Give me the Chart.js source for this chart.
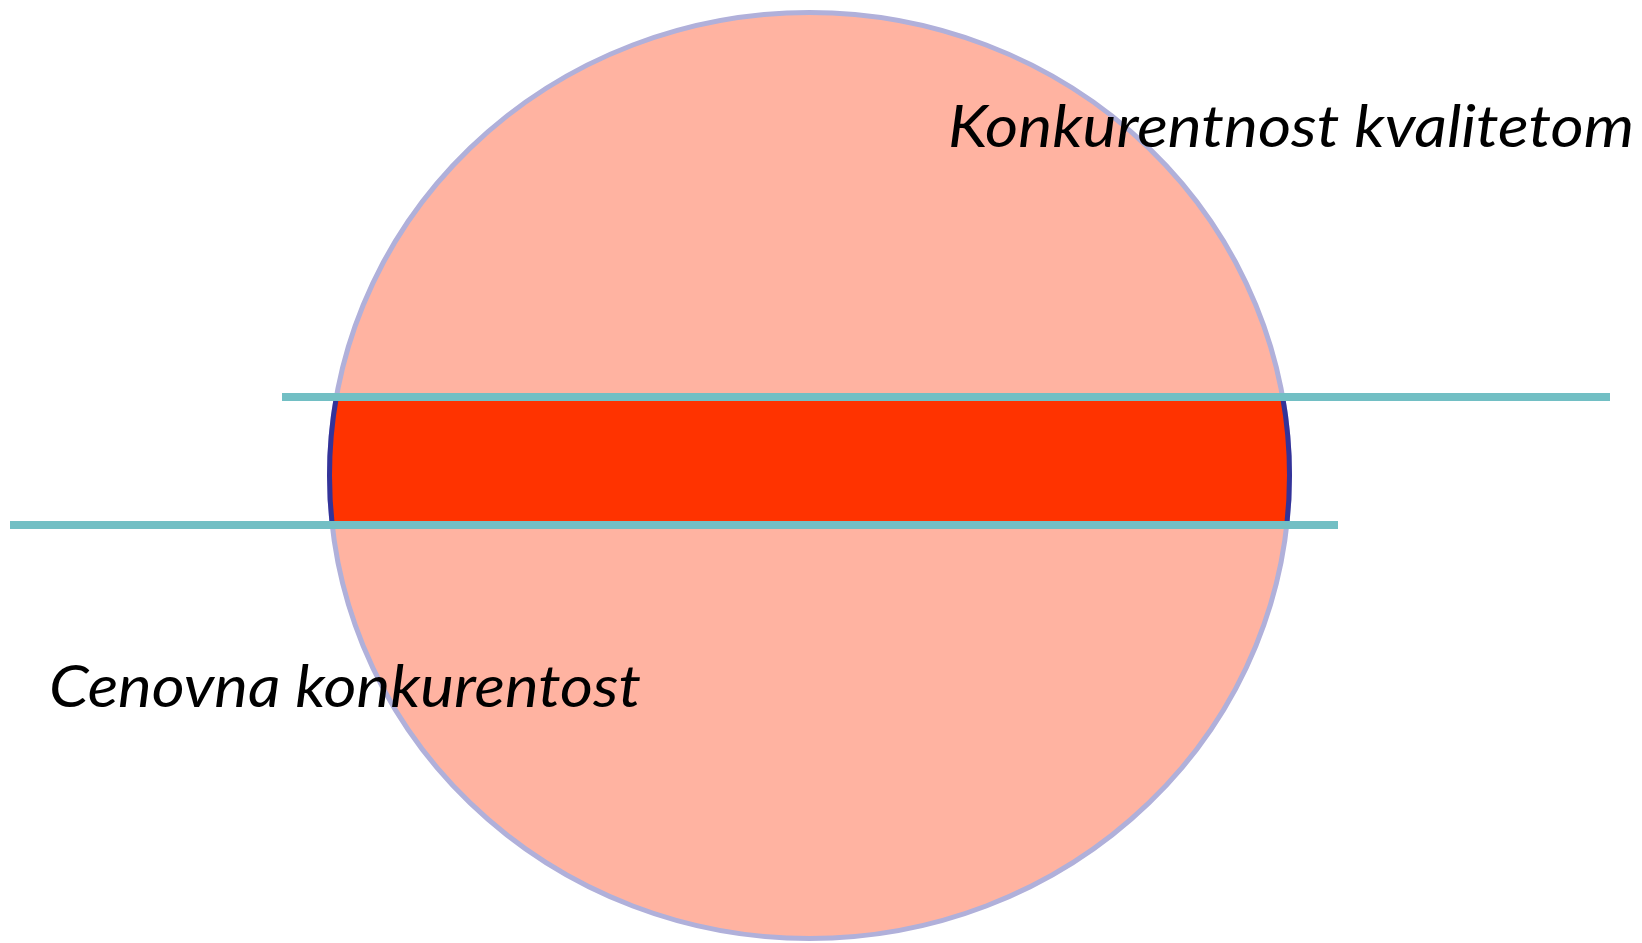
<!DOCTYPE html>
<html>
<head>
<meta charset="utf-8">
<script src="https://cdn.jsdelivr.net/npm/chart.js@4.4.1/dist/chart.umd.min.js"></script>
<style>
  html, body { margin: 0; padding: 0; background: #fff; overflow: hidden; }
  #wrap { width: 1642px; height: 943px; }
</style>
</head>
<body>
<div id="wrap"><canvas id="c" width="1642" height="943"></canvas></div>
<script>
// 경쟁력 다이어그램: 큰 타원(전체) + 두 선 사이의 띠(교집합) + 두 라벨
const ellipseCenter = [809.5, 475.5];   // [x, y] in plot units
const ellipseRadii = [480, 463];        // [rx, ry]
const bandLimits = [397, 525];          // y range of the highlighted band
const qualityLine = [{ x: 282, y: 397 }, { x: 1610, y: 397 }];
const priceLine = [{ x: 10, y: 525 }, { x: 1338, y: 525 }];
const labelTexts = ['Konkurentnost kvalitetom', 'Cenovna konkurentost'];
const labelAnchors = [{ x: 948, y: 147 }, { x: 49, y: 707 }]; // left / baseline
const labelWidths = [686, 592];

const C = {
  fill: '#ffb3a1',
  outline: '#b0b0da',
  band: '#ff3300',
  bandEdge: '#333399',
  line: '#72bfc4',
  text: '#000000',
};

const ellipsePlugin = {
  id: 'ellipse',
  beforeDatasetsDraw(chart) {
    const { ctx, scales: { x, y } } = chart;
    const cx = x.getPixelForValue(ellipseCenter[0]);
    const cy = y.getPixelForValue(ellipseCenter[1]);
    const rx = Math.abs(x.getPixelForValue(ellipseCenter[0] + ellipseRadii[0]) - cx);
    const ry = Math.abs(y.getPixelForValue(ellipseCenter[1] + ellipseRadii[1]) - cy);
    const path = () => { ctx.beginPath(); ctx.ellipse(cx, cy, rx, ry, 0, 0, Math.PI * 2); };

    ctx.save();
    path();
    ctx.fillStyle = C.fill;
    ctx.fill();
    ctx.lineWidth = 5;
    ctx.strokeStyle = C.outline;
    ctx.stroke();

    // 띠 영역만 잘라 진하게
    const y0 = y.getPixelForValue(bandLimits[0]);
    const y1 = y.getPixelForValue(bandLimits[1]);
    ctx.beginPath();
    ctx.rect(0, Math.min(y0, y1), chart.width, Math.abs(y1 - y0));
    ctx.clip();
    path();
    ctx.fillStyle = C.band;
    ctx.fill();
    ctx.strokeStyle = C.bandEdge;
    ctx.stroke();
    ctx.restore();
  },
  afterDatasetsDraw(chart) {
    const { ctx, scales: { x, y } } = chart;
    ctx.save();
    ctx.fillStyle = C.text;
    ctx.font = 'italic 58px Lato, "Open Sans", sans-serif';
    ctx.textBaseline = 'alphabetic';
    labelTexts.forEach((t, i) => {
      const px = x.getPixelForValue(labelAnchors[i].x);
      const py = y.getPixelForValue(labelAnchors[i].y);
      const w = ctx.measureText(t).width;
      ctx.save();
      ctx.translate(px, py);
      ctx.scale(labelWidths[i] / w, 1);
      ctx.fillText(t, 0, 0);
      ctx.restore();
    });
    ctx.restore();
  },
};

const lineDs = (data) => ({
  data, showLine: true, borderColor: C.line, borderWidth: 8,
  pointRadius: 0, borderCapStyle: 'butt', fill: false,
});

new Chart(document.getElementById('c'), {
  type: 'scatter',
  data: { datasets: [lineDs(qualityLine), lineDs(priceLine)] },
  options: {
    responsive: false,
    animation: false,
    layout: { padding: 0 },
    plugins: { legend: { display: false }, tooltip: { enabled: false } },
    scales: {
      x: { type: 'linear', min: 0, max: 1642, display: false },
      y: { type: 'linear', min: 0, max: 943, reverse: true, display: false },
    },
  },
  plugins: [ellipsePlugin],
});
</script>
</body>
</html>
